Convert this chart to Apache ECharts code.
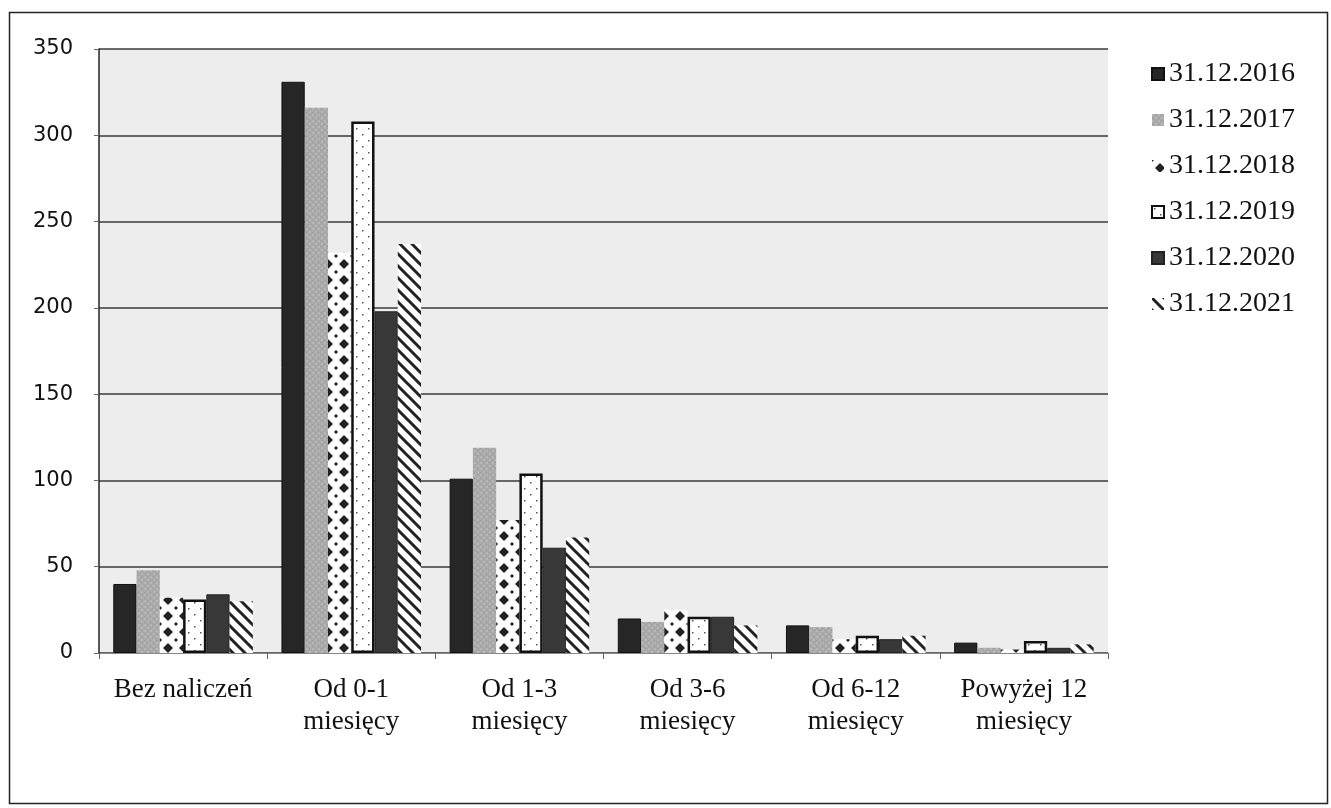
<!DOCTYPE html>
<html><head><meta charset="utf-8">
<script src="https://cdn.jsdelivr.net/npm/echarts@6/dist/echarts.min.js"></script>
<style>html,body{margin:0;padding:0;background:#fff}#c{width:1331px;height:808px}</style>
</head><body><div id="c"></div>
<script>
const categories = ['Bez naliczeń', 'Od 0-1\nmiesięcy', 'Od 1-3\nmiesięcy', 'Od 3-6\nmiesięcy', 'Od 6-12\nmiesięcy', 'Powyżej 12\nmiesięcy'];
const seriesNames = ['31.12.2016', '31.12.2017', '31.12.2018', '31.12.2019', '31.12.2020', '31.12.2021'];
const v2016 = [40, 331, 101, 20, 16, 6];
const v2017 = [48, 316, 119, 18, 15, 3];
const v2018 = [32, 232, 77, 25, 8, 2];
const v2019 = [31, 308, 104, 21, 10, 7];
const v2020 = [34, 198, 61, 21, 8, 3];
const v2021 = [30, 237, 67, 16, 10, 5];
const yTicks = [0, 50, 100, 150, 200, 250, 300, 350];

function pat(w, h, bg, draw) {
  const c = document.createElement('canvas');
  c.width = w; c.height = h;
  const g = c.getContext('2d');
  g.fillStyle = bg; g.fillRect(0, 0, w, h);
  draw(g);
  return { image: c, repeat: 'repeat' };
}
const grayPat = pat(6, 6, '#a9a9a9', g => {
  g.fillStyle = '#b8b8b8'; g.fillRect(0, 0, 2, 2); g.fillRect(3, 3, 2, 2);
  g.fillStyle = '#9a9a9a'; g.fillRect(3, 0, 1, 1); g.fillRect(0, 4, 1, 1);
});
const diamondPat = pat(16, 16, '#ffffff', g => {
  g.fillStyle = '#222';
  const d = (x, y, r) => { g.beginPath(); g.moveTo(x, y - r); g.lineTo(x + r, y); g.lineTo(x, y + r); g.lineTo(x - r, y); g.closePath(); g.fill(); };
  d(8, 8, 5);
  d(0, 0, 2); d(16, 0, 2); d(0, 16, 2); d(16, 16, 2);
});
const dotPat = pat(12, 12, '#ffffff', g => {
  g.fillStyle = '#555';
  g.fillRect(2, 2, 1.5, 1.5); g.fillRect(8, 8, 1.5, 1.5);
});
const stripePat = pat(12, 12, '#ffffff', g => {
  g.strokeStyle = '#222'; g.lineWidth = 3;
  g.beginPath();
  g.moveTo(-6, -6); g.lineTo(18, 18);
  g.moveTo(-12, 0); g.lineTo(12, 24);
  g.moveTo(0, -12); g.lineTo(24, 12);
  g.stroke();
});

const styles = [
  { color: '#262626', borderColor: '#111', borderWidth: 1 },
  { color: grayPat, borderWidth: 0 },
  { color: diamondPat, borderWidth: 0 },
  { color: dotPat, borderColor: '#111', borderWidth: 2.5 },
  { color: '#383838', borderColor: '#222', borderWidth: 1 },
  { color: stripePat, borderWidth: 0 }
];
const data = [v2016, v2017, v2018, v2019, v2020, v2021];

const chart = echarts.init(document.getElementById('c'), null, { renderer: 'canvas' });
chart.setOption({
  animation: false,
  backgroundColor: '#fff',
  graphic: [{
    type: 'rect', shape: { x: 9.5, y: 12.5, width: 1318, height: 791 },
    style: { fill: 'none', stroke: '#222', lineWidth: 1.5 }, silent: true, z: -1
  }],
  grid: { left: 99, top: 49, right: 223, bottom: 155, show: true, backgroundColor: '#ededed', borderWidth: 0 },
  legend: {
    orient: 'vertical', left: 1146, top: 55, itemGap: 18, itemWidth: 12, itemHeight: 12,
    icon: 'rect',
    data: seriesNames,
    textStyle: { fontFamily: 'Liberation Serif', fontSize: 28, color: '#111', padding: [0, 0, 0, 0] }
  },
  xAxis: {
    type: 'category', data: categories,
    axisLine: { lineStyle: { color: '#888', width: 1 } },
    axisTick: { show: true, length: 6, lineStyle: { color: '#666' } },
    axisLabel: { fontFamily: 'Liberation Serif', fontSize: 27, color: '#111', lineHeight: 32, margin: 21, interval: 0 }
  },
  yAxis: {
    type: 'value', min: 0, max: 350, interval: 50,
    axisLine: { show: true, lineStyle: { color: '#222', width: 1.5 } },
    axisTick: { show: true, length: 5, lineStyle: { color: '#666' } },
    splitLine: { lineStyle: { color: '#3a3a3a', width: 1.5 } },
    axisLabel: { fontFamily: 'DejaVu Sans', fontSize: 21, color: '#111', margin: 26,
      formatter: v => yTicks.includes(v) ? String(v) : '' }
  },
  series: seriesNames.map((n, i) => ({
    name: n, type: 'bar', data: data[i],
    barGap: '0%', barCategoryGap: '17%',
    itemStyle: styles[i]
  }))
});
</script></body></html>
